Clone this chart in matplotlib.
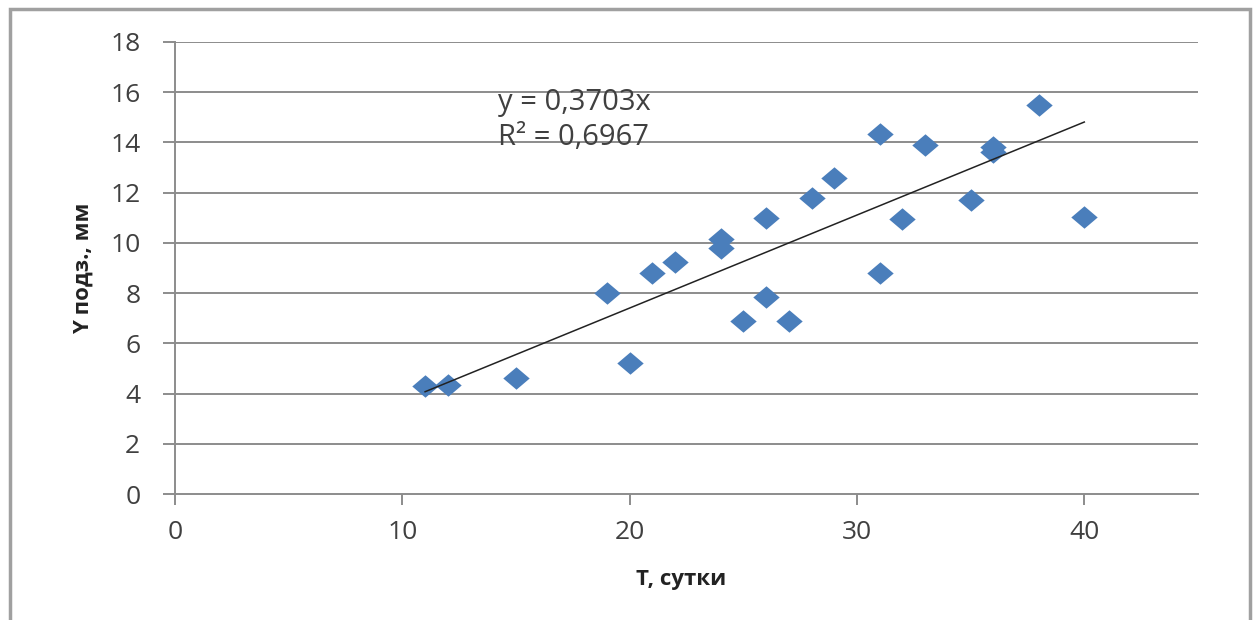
import numpy as np
import matplotlib.pyplot as plt
from matplotlib.patches import Rectangle

# sampled points: time (days) vs Y подз. (mm)
t_days = [11, 12, 15, 19, 20, 21, 22, 24, 24, 25, 26, 26, 27, 28, 29, 31, 31, 32, 33, 35, 36, 36, 38, 40]
y_mm = [4.3, 4.35, 4.6, 8.0, 5.2, 8.8, 9.25, 10.15, 9.8, 6.9, 11.0, 7.85, 6.9, 11.8, 12.6,
        14.35, 8.8, 10.95, 13.9, 11.7, 13.8, 13.6, 15.5, 11.05]
slope = 0.3703
r2 = 0.6967
x_ticks = [0, 10, 20, 30, 40]
y_ticks = [0, 2, 4, 6, 8, 10, 12, 14, 16, 18]

plt.rcParams['font.family'] = ['Open Sans', 'DejaVu Sans']

fig = plt.figure(figsize=(12.54, 6.2), dpi=100)
ax = fig.add_axes([0.1396, 0.2032, 0.8157, 0.7291])

# outer frame of the chart area
fig.patches.append(Rectangle((0.008, -0.01), 0.989, 0.995, transform=fig.transFigure,
                             fill=False, edgecolor='#a0a0a0', linewidth=2.5))

for yv in y_ticks[1:]:
    ax.axhline(yv, color='#8c8c8c', linewidth=1.4, zorder=1)

diamond = [(-1, 0), (0, 0.85), (1, 0), (0, -0.85), (-1, 0)]
ax.plot(t_days, y_mm, linestyle='none', marker=diamond, markersize=19,
        color='#4a7ebb', markeredgewidth=0, zorder=3)

xs = np.array([min(t_days), max(t_days)])
ax.plot(xs, slope * xs, color='#222222', linewidth=1.1, zorder=4)

ax.text(14.2, 15.6, 'y = 0,%04dx' % round(slope * 10000), fontsize=21, color='#404040', va='center')
ax.text(14.2, 14.2, 'R² = 0,%04d' % round(r2 * 10000), fontsize=21, color='#404040', va='center')

ax.set_xlim(0, 45)
ax.set_ylim(0, 18)
ax.set_xticks(x_ticks)
ax.set_yticks(y_ticks)
ax.tick_params(axis='both', labelsize=19, labelcolor='#404040', color='#8c8c8c', width=1.4)
ax.tick_params(axis='x', length=8, pad=11)
ax.tick_params(axis='y', length=9, pad=16)

for side in ['top', 'right']:
    ax.spines[side].set_visible(False)
ax.spines['left'].set_color('#8c8c8c')
ax.spines['bottom'].set_color('#8c8c8c')
ax.spines['left'].set_linewidth(1.4)
ax.spines['bottom'].set_linewidth(1.4)

ax.set_xlabel('T, сутки', fontsize=16, fontweight='bold', color='#222222', va='center')
ax.set_ylabel('Y подз., мм', fontsize=16, fontweight='bold', color='#222222', va='center')
ax.xaxis.set_label_coords(0.495, -0.19)
ax.yaxis.set_label_coords(-0.09, 0.5)

fig.savefig('out.png', dpi=100)
